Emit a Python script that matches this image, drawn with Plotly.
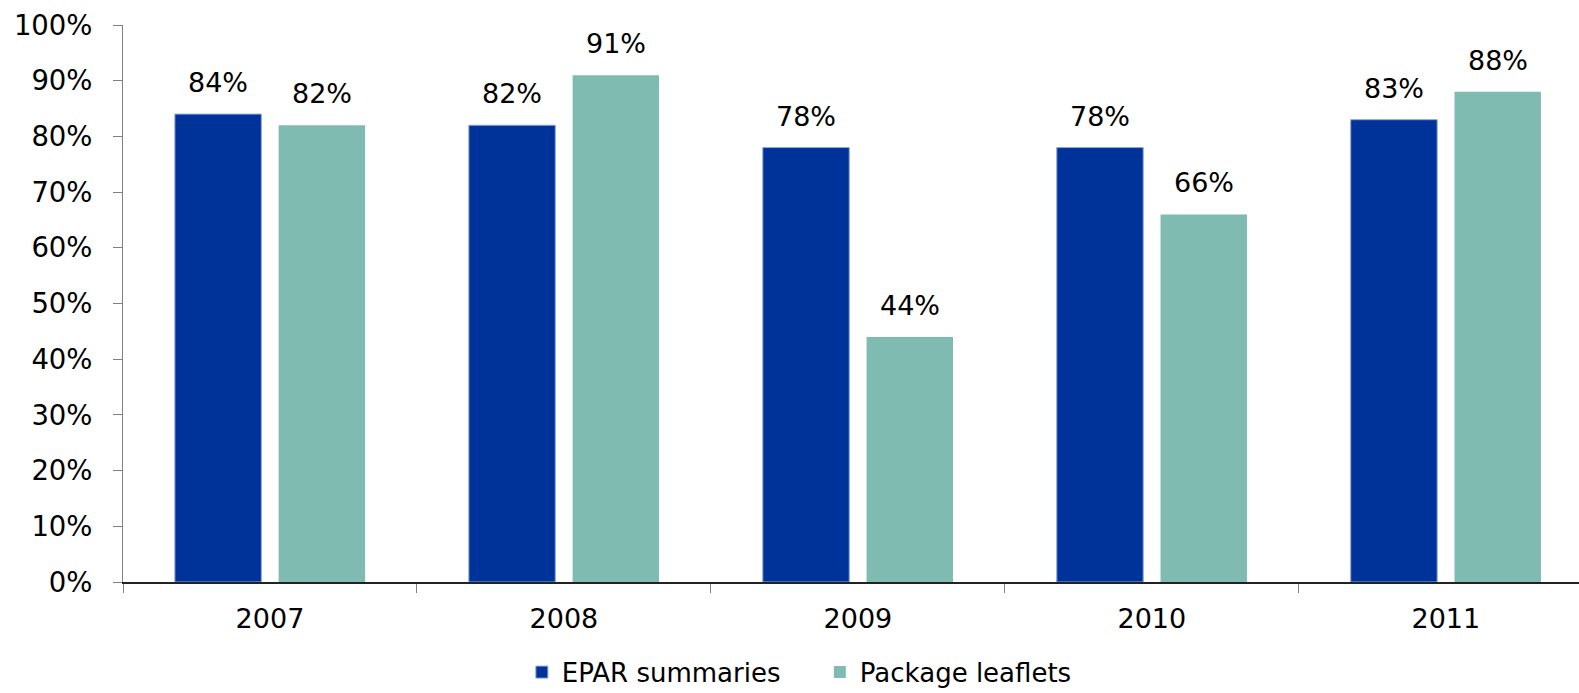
import plotly.graph_objects as go

years = ["2007", "2008", "2009", "2010", "2011"]
epar = [84, 82, 78, 78, 83]
leaflets = [82, 91, 44, 66, 88]
y_ticks = [0, 10, 20, 30, 40, 50, 60, 70, 80, 90, 100]
y_tick_text = [f"{v}%" for v in y_ticks]

BLUE = "#003399"
TEAL = "#7FBBB1"
FONT = "Verdana, DejaVu Sans, sans-serif"

fig = go.Figure()
fig.add_bar(name="EPAR summaries", x=years, y=epar, marker=dict(color=BLUE, line=dict(color="#8FA6D6", width=1)))
fig.add_bar(name="Package leaflets", x=years, y=leaflets, marker=dict(color=TEAL, line=dict(width=0)))

annotations = []
for series, shift in ((epar, -52), (leaflets, 52)):
    for i, v in enumerate(series):
        annotations.append(dict(x=i, y=v, xref="x", yref="y", text=f"{v}%", showarrow=False,
                                xshift=shift, yanchor="bottom", yshift=14,
                                font=dict(family=FONT, size=27, color="#000")))

fig.update_layout(
    width=1579, height=693,
    margin=dict(l=123, r=0, t=25, b=111),
    paper_bgcolor="white", plot_bgcolor="white",
    barmode="group", bargap=0.294, bargroupgap=0.167,
    font=dict(family=FONT, size=27, color="#000"),
    annotations=annotations,
    showlegend=True,
    legend=dict(orientation="h", xref="container", yref="container", x=0.3305, xanchor="left",
                y=0.03, yanchor="middle",
                font=dict(family=FONT, size=26),
                itemwidth=30, entrywidth=253, traceorder="normal"),
    xaxis=dict(type="category", range=[-0.5, 4.453], showline=True, linecolor="#222", linewidth=1.5,
               ticks="outside", tickson="boundaries", ticklen=9, tickcolor="#808080",
               showgrid=False, ticklabelstandoff=12, tickfont=dict(size=27)),
    yaxis=dict(range=[0, 100], tickvals=y_ticks, ticktext=y_tick_text, showline=True,
               linecolor="#808080", linewidth=1, ticks="outside", ticklen=9, tickcolor="#808080",
               showgrid=False, zeroline=False, ticklabelstandoff=15, tickfont=dict(size=27.5)),
)

fig.write_html("out.html")
